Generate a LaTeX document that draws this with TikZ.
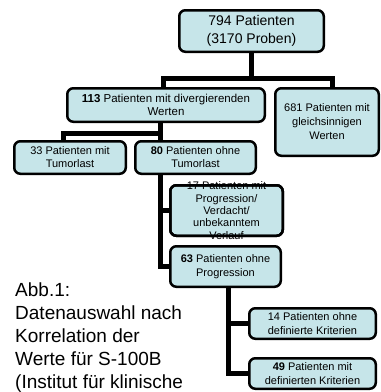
\documentclass[tikz,border=0pt]{standalone}
\usepackage{fontspec}
\setmainfont{Liberation Sans}
\usetikzlibrary{backgrounds}
\definecolor{boxfill}{RGB}{198,229,233}
\tikzset{
  box/.style={draw=black, fill=boxfill, line width=2.5pt, rounded corners=6pt,
    inner sep=0pt, outer sep=0pt, align=center, font=\fontsize{11}{13}\selectfont},
  conn/.style={draw=black, line width=5pt, line join=miter, line cap=butt},
  caption/.style={inner sep=0pt, align=left, anchor=north west,
    font=\fontsize{19}{23}\selectfont}
}
\begin{document}
\begin{tikzpicture}[x=1pt,y=-1pt]
\useasboundingbox (0,0) rectangle (381,392);

\node[box, minimum width=144.5pt, minimum height=41.5pt,
  font=\fontsize{14}{18}\selectfont] (top) at (251.5,31) {794 Patienten\\(3170 Proben)};
\node[box, minimum width=197.5pt, minimum height=33.5pt,
  font=\fontsize{11.5}{13}\selectfont] (b113) at (166,105) {\textbf{113} Patienten mit divergierenden\\Werten};
\node[box, minimum width=103.5pt, minimum height=67.5pt,
  font=\fontsize{11}{14}\selectfont] (b681) at (327,122) {681 Patienten mit\\gleichsinnigen\\Werten};
\node[box, minimum width=111.5pt, minimum height=32.5pt] (b33) at (70,157.5) {33 Patienten mit\\Tumorlast};
\node[box, minimum width=120.5pt, minimum height=32.5pt] (b80) at (195.5,157.5) {\textbf{80} Patienten ohne\\Tumorlast};
\node[box, minimum width=112.5pt, minimum height=50.5pt] (b17) at (226.5,210.5) {};
\node[inner sep=0pt, align=center, font=\fontsize{11}{12.3}\selectfont] (t17) at (b17.center)
  {17 Patienten mit\\Progression/\\Verdacht/\\unbekanntem\\Verlauf};
\draw[line width=2.5pt, rounded corners=6pt] (b17.north west) rectangle (b17.south east);
\node[box, minimum width=110.5pt, minimum height=40.5pt,
  font=\fontsize{11}{14.5}\selectfont] (b63) at (225.5,266.5) {\textbf{63} Patienten ohne\\Progression};
\node[box, minimum width=126.5pt, minimum height=30.5pt,
  font=\fontsize{11}{14}\selectfont] (b14) at (312.5,323.5) {14 Patienten ohne\\definierte Kriterien};
\node[box, minimum width=126.5pt, minimum height=30.5pt,
  font=\fontsize{11}{14}\selectfont] (b49) at (312.5,373.5) {\textbf{49} Patienten mit\\definierten Kriterien};

\node[caption] (cap) at (15,283) {Abb.1:\\Datenauswahl nach\\Korrelation der\\Werte für S-100B\\(Institut für klinische};

\begin{scope}[on background layer]
  \coordinate (h1) at (163,78);
  \coordinate (h2) at (332,78);
  \draw[conn] (top.south) -- (top.south |- h1);
  \draw[conn] (b113.north -| h1) |- (h2) -- (b681.north -| h2);
  \coordinate (h3) at (63,133);
  \coordinate (v3) at (160,133);
  \draw[conn] (b113.south -| v3) -- (b80.north -| v3);
  \draw[conn] (v3) -- (h3) -- (b33.north -| h3);
  \coordinate (v4) at (160,0);
  \draw[conn] (b80.south -| v4) |- (b63.west);
  \draw[conn] (b17.west -| v4) -- (b17.west);
  \coordinate (v5) at (228,0);
  \draw[conn] (b63.south -| v5) |- (b49.west);
  \draw[conn] (b14.west -| v5) -- (b14.west);
\end{scope}
\end{tikzpicture}
\end{document}
